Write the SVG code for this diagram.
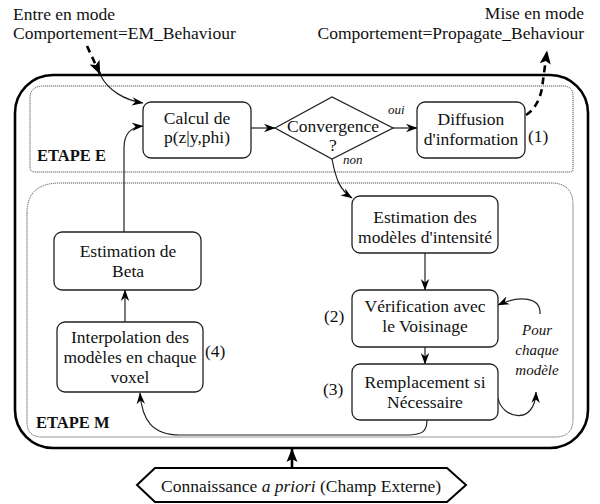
<svg xmlns="http://www.w3.org/2000/svg" width="600" height="504" viewBox="0 0 600 504">
<defs>
<marker id="ah" markerUnits="userSpaceOnUse" markerWidth="12" markerHeight="10" viewBox="0 0 12 10" refX="11" refY="5" orient="auto">
<path d="M0,0.8 L11.5,5 L0,9.2 L3.5,5 Z" fill="#000"/>
</marker>
<marker id="ahb" markerUnits="userSpaceOnUse" markerWidth="14" markerHeight="12" viewBox="0 0 14 12" refX="13" refY="6" orient="auto">
<path d="M0,0.5 L13.5,6 L0,11.5 L3,6 Z" fill="#000"/>
</marker>
</defs>
<rect x="15" y="75" width="573" height="373" rx="38" ry="38" fill="none" stroke="#000" stroke-width="2.6"/>
<g fill="none" stroke="#555" stroke-width="1" stroke-dasharray="1.2 0.8">
<path d="M30,98 Q30,86 44,86 L563,86 Q573,86 573,96 L573,169 Q573,172 570,172 L35,172 Q30,172 30,167 Z"/>
<path d="M27,213 Q27,183 60,183 L551,183 Q573,183 573,205 L573,419 Q573,437 555,437 L42,437 Q27,437 27,422 Z"/>
</g>
<g font-family="Liberation Serif" font-size="17.5" fill="#111">
<text x="37" y="161" font-size="16.5" font-weight="bold">ETAPE E</text>
<text x="36" y="428" font-size="16.5" font-weight="bold">ETAPE M</text>
<g id="labels">
<text x="13" y="20">Entre en mode</text>
<text x="13" y="39">Comportement=EM_Behaviour</text>
<text x="584" y="19" text-anchor="end">Mise en mode</text>
<text x="584" y="39" text-anchor="end">Comportement=Propagate_Behaviour</text>
</g>
<g id="connectors" fill="none" stroke="#222" stroke-width="1.2">
<path d="M87,46 L100,74" stroke="#000" stroke-width="2.6" stroke-dasharray="7 5" marker-end="url(#ahb)"/>
<path d="M101,76 C108,90 124,100 143,103" marker-end="url(#ah)"/>
<path d="M526,115 C534,110 540,100 542,88 L547,51" stroke="#000" stroke-width="2.6" stroke-dasharray="7 5" marker-end="url(#ahb)"/>
<path d="M251,128 L275,128" marker-end="url(#ah)"/>
<path d="M393,128 L417,128" marker-end="url(#ah)"/>
<path d="M332,159 C336,180 340,190 352,198" marker-end="url(#ah)"/>
<path d="M425,253 L425,290" marker-end="url(#ah)"/>
<path d="M425,347 L425,364" marker-end="url(#ah)"/>
<path d="M540,314 C541,297 520,295 498,305" marker-end="url(#ah)"/>
<path d="M498,398 C502,419 535,426 536,392" marker-end="url(#ah)"/>
<path d="M427,420 C427,432 422,434 410,435 L180,435 C152,435 142,420 140,393" marker-end="url(#ah)"/>
<path d="M125,322 L125,290" marker-end="url(#ah)"/>
<path d="M124,232 L124,148 C124,135 130,127 143,126" marker-end="url(#ah)"/>
<path d="M292,468 L292,449" stroke="#000" stroke-width="2.6" marker-end="url(#ahb)"/>
</g>
<g id="calcul" text-anchor="middle">
<rect x="143" y="102" width="108" height="56" rx="8" fill="#fff" stroke="#222" stroke-width="1.3"/>
<text x="197" y="124">Calcul de</text>
<text x="197" y="143">p(z|y,phi)</text>
</g>
<g id="convergence">
<polygon points="275,128 332,97 393,128 332,159" fill="#fff" stroke="#222" stroke-width="1.3"/>
<text x="333" y="132" text-anchor="middle">Convergence</text>
<text x="333" y="151" text-anchor="middle">?</text>
<text x="388" y="114" font-size="13" font-style="italic">oui</text>
<text x="343" y="164" font-size="13" font-style="italic">non</text>
</g>
<g id="diffusion">
<rect x="417" y="102" width="108" height="56" rx="8" fill="#fff" stroke="#222" stroke-width="1.3"/>
<text x="471" y="125" text-anchor="middle">Diffusion</text>
<text x="471" y="145" text-anchor="middle">d'information</text>
<text x="528" y="142">(1)</text>
</g>
<g id="estimation-modeles" text-anchor="middle">
<rect x="352" y="196" width="146" height="57" rx="8" fill="#fff" stroke="#222" stroke-width="1.3"/>
<text x="425" y="223">Estimation des</text>
<text x="425" y="243">modèles d'intensité</text>
</g>
<g id="verification">
<rect x="352" y="290" width="146" height="57" rx="8" fill="#fff" stroke="#222" stroke-width="1.3"/>
<text x="425" y="312" text-anchor="middle">Vérification avec</text>
<text x="425" y="332" text-anchor="middle">le Voisinage</text>
<text x="324" y="322">(2)</text>
</g>
<g id="remplacement">
<rect x="352" y="364" width="146" height="56" rx="8" fill="#fff" stroke="#222" stroke-width="1.3"/>
<text x="425" y="388" text-anchor="middle">Remplacement si</text>
<text x="425" y="408" text-anchor="middle">Nécessaire</text>
<text x="323" y="395">(3)</text>
</g>
<g id="pour-chaque" text-anchor="middle" font-size="15" font-style="italic">
<text x="537" y="335">Pour</text>
<text x="537" y="355">chaque</text>
<text x="537" y="375">modèle</text>
</g>
<g id="beta" text-anchor="middle">
<rect x="54" y="232" width="147" height="58" rx="8" fill="#fff" stroke="#222" stroke-width="1.3"/>
<text x="128" y="257">Estimation de</text>
<text x="128" y="277">Beta</text>
</g>
<g id="interpolation">
<rect x="57" y="322" width="146" height="70" rx="8" fill="#fff" stroke="#222" stroke-width="1.3"/>
<text x="130" y="343" text-anchor="middle">Interpolation des</text>
<text x="130" y="363" text-anchor="middle">modèles en chaque</text>
<text x="130" y="383" text-anchor="middle">voxel</text>
<text x="205" y="357">(4)</text>
</g>
<g id="connaissance">
<polygon points="137,485 155,468 447,468 466,485 447,502 155,502" fill="#fff" stroke="#000" stroke-width="2"/>
<text x="301" y="492" text-anchor="middle">Connaissance <tspan font-style="italic">a priori</tspan> (Champ Externe)</text>
</g>
</g>
</svg>
